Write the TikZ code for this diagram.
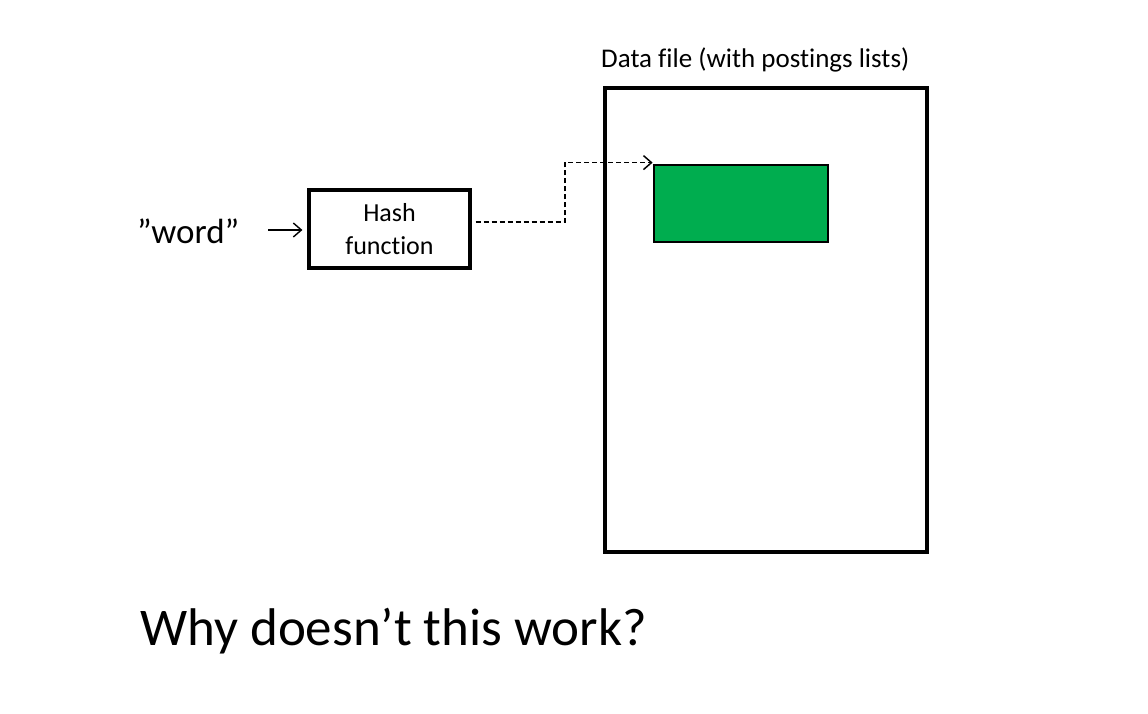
\documentclass[tikz,border=0pt]{standalone}
\usepackage{fontspec}
\setmainfont{Carlito}[Ligatures=NoCommon]
\usetikzlibrary{arrows.meta}
\definecolor{postgreen}{HTML}{00AD4F}
\begin{document}
\begin{tikzpicture}[x=1pt, y=-1pt,
  box/.style={draw, line width=3.2pt, inner sep=0pt},
  harrow/.style={-{Straight Barb[length=8pt,width=14pt]}, line width=1.4pt}]
\useasboundingbox (0,0) rectangle (1148,714);
% data file and its entry
\node[box, minimum width=322pt, minimum height=464pt] (file) at (766,320) {};
\node[box, line width=2.8pt, fill=postgreen, minimum width=174pt, minimum height=77pt] (entry) at (741,203.5) {};
\node[font=\fontsize{27}{32}\selectfont, inner sep=0pt, anchor=base west] (filelabel) at (601,68) {Data file (with postings lists)};

% the hash function
\node[box, minimum width=161pt, minimum height=78pt, align=center,
  font=\fontsize{26}{33}\selectfont] (hash) at (389.5,229) {Hash\\function};
\node[font=\fontsize{35}{40}\selectfont, inner sep=0pt, anchor=base west] (word) at (137,243) {”word”};
\coordinate (in) at (268,230);
\draw[harrow, shorten >=5pt] (in) -- (hash.west |- in);

\coordinate (kink) at (565,193);
\draw[harrow, line width=1.5pt, dash pattern=on 5pt off 3pt]
  ([xshift=4pt,yshift=7pt]hash.east) -| (kink) |- ([yshift=1pt]entry.north west);

\node[font=\fontsize{53}{60}\selectfont, inner sep=0pt, anchor=base west] (question) at (140,645) {Why doesn’t this work?};
\end{tikzpicture}
\end{document}
